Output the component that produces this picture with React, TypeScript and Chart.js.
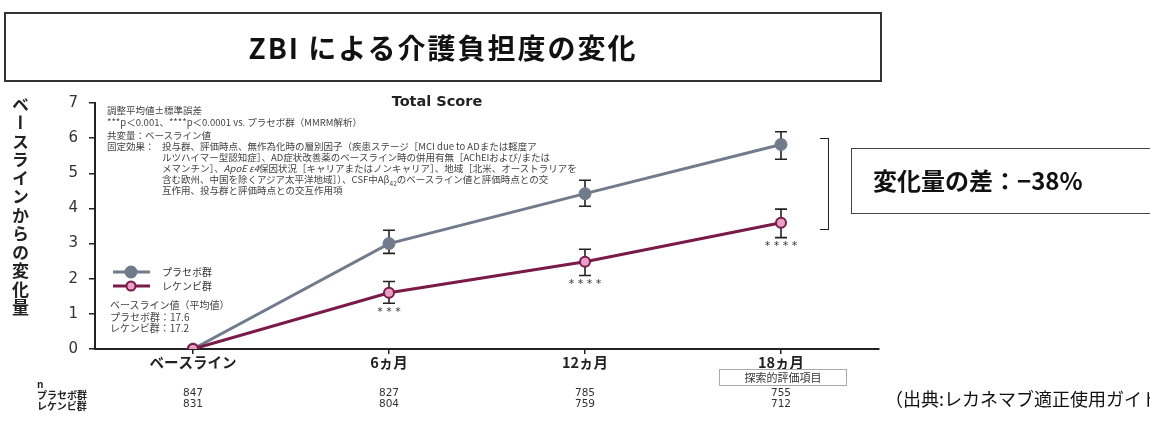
import React, { useEffect, useRef } from "react";
import { Chart, registerables } from "chart.js";
Chart.register(...registerables);

const categories = ["ベースライン", "6ヵ月", "12ヵ月", "18ヵ月"];
const placeboMean = [0, 3.0, 4.42, 5.82];
const placeboLow = [0, 2.72, 4.06, 5.4];
const placeboHigh = [0, 3.38, 4.8, 6.18];
const lecMean = [0, 1.6, 2.48, 3.59];
const lecLow = [0, 1.3, 2.09, 3.17];
const lecHigh = [0, 1.92, 2.84, 3.98];
const significance = ["", "* * *", "* * * *", "* * * *"];
const placeboN = [847, 827, 785, 755];
const lecN = [831, 804, 759, 712];
const seriesNames = ["プラセボ群", "レケンビ群"];
const yMin = 0;
const yMax = 7;

const PLACEBO_COLOR = "#717b8c";
const LEC_COLOR = "#7a1a48";
const LEC_FILL = "#e8a0c8";
const JP = '"Noto Sans CJK JP", "Noto Sans", sans-serif';
const LAT = '"DejaVu Sans", "Noto Sans", sans-serif';

const extrasPlugin = {
  id: "extras",
  beforeDatasetsDraw(chart: any) {
    const ctx = chart.ctx;
    const xs = chart.scales.x;
    const ys = chart.scales.y;
    const sets = [
      [placeboLow, placeboHigh],
      [lecLow, lecHigh],
    ];
    ctx.save();
    ctx.strokeStyle = "#222";
    ctx.lineWidth = 1.6;
    sets.forEach(([lo, hi]) => {
      for (let i = 1; i < categories.length; i++) {
        const x = xs.getPixelForValue(i);
        const y1 = ys.getPixelForValue(lo[i]);
        const y2 = ys.getPixelForValue(hi[i]);
        ctx.beginPath();
        ctx.moveTo(x, y1);
        ctx.lineTo(x, y2);
        ctx.moveTo(x - 6, y1);
        ctx.lineTo(x + 6, y1);
        ctx.moveTo(x - 6, y2);
        ctx.lineTo(x + 6, y2);
        ctx.stroke();
      }
    });
    ctx.restore();
  },
  afterDraw(chart: any) {
    const ctx = chart.ctx;
    const xs = chart.scales.x;
    const ys = chart.scales.y;
    ctx.save();
    ctx.fillStyle = "#333";
    ctx.font = `11px ${LAT}`;
    ctx.textAlign = "center";
    ctx.textBaseline = "middle";
    for (let i = 0; i < categories.length; i++) {
      if (!significance[i]) continue;
      const x = xs.getPixelForValue(i);
      const y = ys.getPixelForValue(lecLow[i]) + 9;
      ctx.fillText(significance[i], x, y);
    }
    const legend = [
      { y: 272, color: PLACEBO_COLOR, fill: PLACEBO_COLOR, r: 5.5 },
      { y: 286, color: LEC_COLOR, fill: LEC_FILL, r: 4.5 },
    ];
    legend.forEach((l, k) => {
      ctx.strokeStyle = l.color;
      ctx.lineWidth = 3;
      ctx.beginPath();
      ctx.moveTo(113, l.y);
      ctx.lineTo(150, l.y);
      ctx.stroke();
      ctx.beginPath();
      ctx.arc(131, l.y, l.r, 0, Math.PI * 2);
      ctx.fillStyle = l.fill;
      ctx.fill();
      ctx.lineWidth = 2;
      ctx.stroke();
      ctx.fillStyle = "#333";
      ctx.font = `10px ${JP}`;
      ctx.textAlign = "left";
      ctx.fillText(seriesNames[k], 162, l.y);
    });
    ctx.fillStyle = "#333";
    ctx.font = `10.5px ${LAT}`;
    ctx.textAlign = "center";
    for (let i = 0; i < categories.length; i++) {
      const x = xs.getPixelForValue(i);
      ctx.fillText(String(placeboN[i]), x, 393);
      ctx.fillText(String(lecN[i]), x, 404);
    }
    ctx.restore();
  },
};

export default function App() {
  const ref = useRef<HTMLCanvasElement | null>(null);
  useEffect(() => {
    if (!ref.current) return;
    const chart = new Chart(ref.current, {
      type: "line",
      data: {
        labels: categories,
        datasets: [
          {
            label: seriesNames[0],
            data: placeboMean,
            borderColor: PLACEBO_COLOR,
            backgroundColor: PLACEBO_COLOR,
            borderWidth: 3,
            pointRadius: 6,
            pointBorderWidth: 1,
            pointBackgroundColor: PLACEBO_COLOR,
            pointBorderColor: PLACEBO_COLOR,
            order: 1,
          },
          {
            label: seriesNames[1],
            data: lecMean,
            borderColor: LEC_COLOR,
            backgroundColor: LEC_FILL,
            borderWidth: 3,
            pointRadius: 5,
            pointBorderWidth: 2,
            pointBackgroundColor: LEC_FILL,
            pointBorderColor: LEC_COLOR,
            order: 0,
          },
        ],
      },
      options: {
        animation: false,
        responsive: false,
        devicePixelRatio: 1,
        layout: { padding: { left: 0, top: 103, right: 271, bottom: 42 } },
        plugins: { legend: { display: false }, tooltip: { enabled: false }, title: { display: false } },
        scales: {
          x: {
            type: "category",
            offset: true,
            afterFit: (s: any) => {
              s.height = 30;
            },
            grid: { display: true, drawOnChartArea: false, drawTicks: true, tickLength: 5, color: "#222", lineWidth: 1.5, offset: false },
            border: { display: true, color: "#222", width: 2 },
            ticks: { color: "#222", font: { family: JP, size: 14.5, weight: "bold" }, padding: 0 },
          },
          y: {
            min: yMin,
            max: yMax,
            afterFit: (s: any) => {
              s.width = 95;
            },
            grid: { display: true, drawOnChartArea: false, drawTicks: true, tickLength: 6, color: "#222", lineWidth: 1.5 },
            border: { display: true, color: "#222", width: 2 },
            ticks: { stepSize: 1, color: "#333", font: { family: LAT, size: 15 }, padding: 11 },
          },
        },
      },
      plugins: [extrasPlugin],
    } as any);
    return () => chart.destroy();
  }, []);

  const abs = (s: any) => ({ position: "absolute", ...s } as React.CSSProperties);
  const noteStyle = { fontFamily: JP, fontSize: 9.5, color: "#444", whiteSpace: "nowrap", lineHeight: "11px" };

  return (
    <div style={abs({ left: 0, top: 0, width: 1150, height: 421, overflow: "hidden", background: "#fff" })}>
      <canvas ref={ref} width={1150} height={421} style={abs({ left: 0, top: 0, width: 1150, height: 421 })} />
      <div
        style={abs({
          left: 4,
          top: 12,
          width: 878,
          height: 70,
          border: "2px solid #333",
          boxSizing: "border-box",
          textAlign: "center",
          lineHeight: "66px",
          fontFamily: JP,
          fontWeight: "bold",
          fontSize: 28,
          letterSpacing: 2,
          color: "#111",
        })}
      >
        ZBI による介護負担度の変化
      </div>
      <div
        style={abs({
          left: 8,
          top: 96,
          writingMode: "vertical-rl",
          fontFamily: JP,
          fontWeight: "bold",
          fontSize: 17,
          letterSpacing: 1.5,
          color: "#222",
        })}
      >
        ベースラインからの変化量
      </div>
      <div style={abs({ left: 380, top: 93, width: 114, textAlign: "center", fontFamily: LAT, fontWeight: "bold", fontSize: 14.5, color: "#222" })}>
        Total Score
      </div>
      <div style={abs({ left: 107, top: 105, ...noteStyle })}>調整平均値±標準誤差</div>
      <div style={abs({ left: 107, top: 117, ...noteStyle })}>***p＜0.001、****p＜0.0001 vs. プラセボ群（MMRM解析）</div>
      <div style={abs({ left: 107, top: 130, ...noteStyle })}>共変量：ベースライン値</div>
      <div style={abs({ left: 107, top: 141, ...noteStyle })}>固定効果：</div>
      <div style={abs({ left: 162, top: 141, ...noteStyle })}>投与群、評価時点、無作為化時の層別因子（疾患ステージ［MCI due to ADまたは軽度ア</div>
      <div style={abs({ left: 162, top: 152, ...noteStyle })}>ルツハイマー型認知症］、AD症状改善薬のベースライン時の併用有無［AChEIおよび/または</div>
      <div style={abs({ left: 162, top: 163, ...noteStyle })}>
        メマンチン］、<i>ApoE ε4</i>保因状況［キャリアまたはノンキャリア］、地域［北米、オーストラリアを
      </div>
      <div style={abs({ left: 162, top: 174, ...noteStyle })}>
        含む欧州、中国を除くアジア太平洋地域］）、CSF中Aβ<sub style={{ fontSize: 6.5 }}>42</sub>のベースライン値と評価時点との交
      </div>
      <div style={abs({ left: 162, top: 185, ...noteStyle })}>互作用、投与群と評価時点との交互作用項</div>
      <div style={abs({ left: 110, top: 299, ...noteStyle, fontSize: 10, lineHeight: "11.5px" })}>
        ベースライン値（平均値）
        <br />
        プラセボ群：17.6
        <br />
        レケンビ群：17.2
      </div>
      <div style={abs({ left: 820, top: 138, width: 9, height: 92, borderTop: "1.5px solid #222", borderRight: "1.5px solid #222", borderBottom: "1.5px solid #222", boxSizing: "border-box" })} />
      <div
        style={abs({
          left: 851,
          top: 148,
          width: 320,
          height: 66,
          border: "1.5px solid #444",
          boxSizing: "border-box",
          paddingLeft: 21,
          lineHeight: "62px",
          fontFamily: JP,
          fontWeight: "bold",
          fontSize: 24,
          color: "#111",
          whiteSpace: "nowrap",
        })}
      >
        変化量の差：−38%
      </div>
      <div style={abs({ left: 37, top: 378, fontFamily: JP, fontWeight: "bold", fontSize: 10, color: "#222", lineHeight: "11px" })}>
        n<br />プラセボ群<br />レケンビ群
      </div>
      <div
        style={abs({
          left: 719,
          top: 369,
          width: 128,
          height: 17,
          border: "1px solid #aaa",
          boxSizing: "border-box",
          textAlign: "center",
          lineHeight: "15px",
          fontFamily: JP,
          fontSize: 11,
          color: "#333",
        })}
      >
        探索的評価項目
      </div>
      <div style={abs({ left: 885, top: 385, fontFamily: JP, fontSize: 18, color: "#111", whiteSpace: "nowrap" })}>
        （出典:レカネマブ適正使用ガイドライン）
      </div>
    </div>
  );
}
